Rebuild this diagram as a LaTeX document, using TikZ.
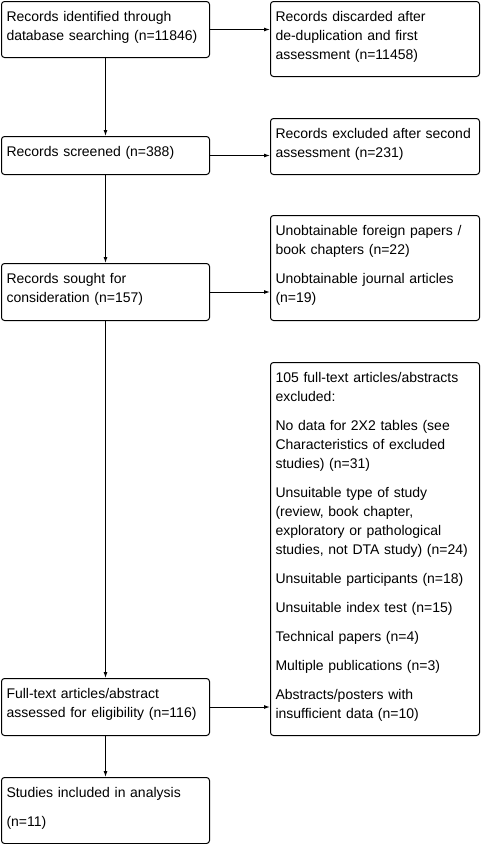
\documentclass[tikz,border=0pt]{standalone}
\usepackage{fontspec}
\setmainfont{Liberation Sans}
\usetikzlibrary{arrows.meta}

\begin{document}
\begin{tikzpicture}[
  x=1pt,
  y=-1pt,
  caja/.style={
    draw,
    line width=1pt,
    rounded corners=3pt,
    anchor=north west,
    align=left,
    inner xsep=5pt,
    inner ysep=8pt,
    text height=11.5pt,
    font=\fontsize{14}{19}\selectfont
  },
  izq/.style={caja, text width=198pt},
  der/.style={caja, text width=199pt},
  flecha/.style={line width=1pt, -{Latex[length=6pt,width=4pt]}}
]
\def\sep{10pt}

\useasboundingbox (0,0) rectangle (483,844);

%--------------------
% Columna izquierda
%--------------------
\node[izq, text depth=28.5pt] (ident) at (1,1)
  {Records identified through\\database searching (n=11846)};
\node[izq, text depth=10.5pt] (screen) at (1,136)
  {Records screened (n=388)};
\node[izq, text depth=29.5pt] (sought) at (1,263)
  {Records sought for\\consideration (n=157)};
\node[izq, text depth=29.5pt] (fulltext) at (1,678)
  {Full-text articles/abstract\\assessed for eligibility (n=116)};
\node[izq, text depth=38.5pt] (included) at (1,777)
  {Studies included in analysis\\[\sep](n=11)};

%--------------------
% Columna derecha
%--------------------
\node[der, text depth=47.5pt] (discard) at (270,1)
  {Records discarded after\\de-duplication and first\\assessment (n=11458)};
\node[der, text depth=28.5pt] (second) at (270,118)
  {Records excluded after second\\assessment (n=231)};
\node[der, text depth=77.5pt] (unobt) at (270,215)
  {Unobtainable foreign papers /\\book chapters (n=22)\\[\sep]%
   Unobtainable journal articles\\(n=19)};
\node[der, text depth=345.5pt] (excl) at (270,362)
  {105 full-text articles/abstracts\\excluded:\\[\sep]%
   No data for 2X2 tables (see\\Characteristics of excluded\\studies) (n=31)\\[\sep]%
   Unsuitable type of study\\(review, book chapter,\\exploratory or pathological\\studies, not DTA study) (n=24)\\[\sep]%
   Unsuitable participants (n=18)\\[\sep]%
   Unsuitable index test (n=15)\\[\sep]%
   Technical papers (n=4)\\[\sep]%
   Multiple publications (n=3)\\[\sep]%
   Abstracts/posters with\\insufficient data (n=10)};

%--------------------
% Flechas
%--------------------
\foreach \a/\b in {ident/screen, screen/sought, sought/fulltext, fulltext/included} {
  \draw[flecha] (\a.south) -- (\b.north);
}

\foreach \a/\b in {ident/discard, screen/second, sought/unobt, fulltext/excl} {
  \draw[flecha] (\a.east) -- (\a.east -| \b.west);
}

\end{tikzpicture}
\end{document}
